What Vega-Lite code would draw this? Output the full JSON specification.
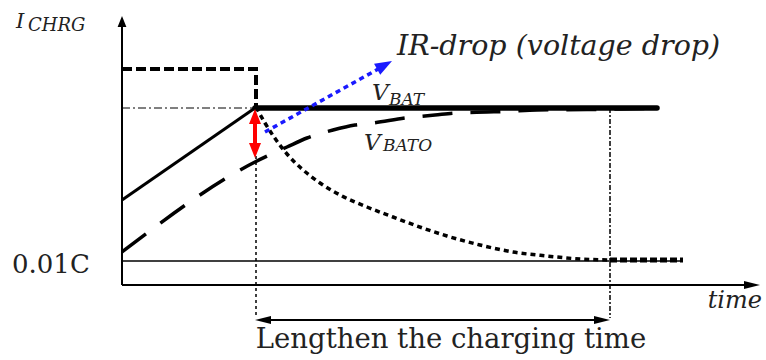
{
  "$schema": "https://vega.github.io/schema/vega-lite/v6.json",
  "width": 766,
  "height": 360,
  "padding": 0,
  "autosize": {"type": "fit", "contains": "padding"},
  "background": "white",
  "config": {"view": {"stroke": null}},
  "datasets": {
    "lines": [
      {"id": "yaxis", "o": 0, "t": 0, "v": 0},
      {"id": "yaxis", "o": 1, "t": 0, "v": 260},
      {"id": "xaxis", "o": 0, "t": 0, "v": 0},
      {"id": "xaxis", "o": 1, "t": 626, "v": 0},
      {"id": "lvl001", "o": 0, "t": 0, "v": 24},
      {"id": "lvl001", "o": 1, "t": 561, "v": 24},
      {"id": "vref", "o": 0, "t": 0, "v": 177},
      {"id": "vref", "o": 1, "t": 133, "v": 177},
      {"id": "vbat", "o": 0, "t": 133, "v": 177},
      {"id": "vbat", "o": 1, "t": 535, "v": 177},
      {"id": "rise", "o": 0, "t": 0, "v": 85},
      {"id": "rise", "o": 1, "t": 133, "v": 177},
      {"id": "cc", "o": 0, "t": 0, "v": 216},
      {"id": "cc", "o": 1, "t": 134, "v": 216},
      {"id": "cc", "o": 2, "t": 134, "v": 178},
      {"id": "decay", "o": 0, "t": 134, "v": 178},
      {"id": "decay", "o": 1, "t": 143, "v": 162},
      {"id": "decay", "o": 2, "t": 152, "v": 148},
      {"id": "decay", "o": 3, "t": 165, "v": 131},
      {"id": "decay", "o": 4, "t": 180, "v": 116},
      {"id": "decay", "o": 5, "t": 198, "v": 102},
      {"id": "decay", "o": 6, "t": 220, "v": 89},
      {"id": "decay", "o": 7, "t": 245, "v": 78},
      {"id": "decay", "o": 8, "t": 271, "v": 68},
      {"id": "decay", "o": 9, "t": 295, "v": 59},
      {"id": "decay", "o": 10, "t": 325, "v": 49},
      {"id": "decay", "o": 11, "t": 358, "v": 40},
      {"id": "decay", "o": 12, "t": 391, "v": 33},
      {"id": "decay", "o": 13, "t": 425, "v": 29},
      {"id": "decay", "o": 14, "t": 458, "v": 26},
      {"id": "decay", "o": 15, "t": 488, "v": 25},
      {"id": "tail", "o": 0, "t": 488, "v": 25},
      {"id": "tail", "o": 1, "t": 561, "v": 25},
      {"id": "vbato", "o": 0, "t": 0, "v": 33},
      {"id": "vbato", "o": 1, "t": 133, "v": 123},
      {"id": "vbato", "o": 2, "t": 165, "v": 138},
      {"id": "vbato", "o": 3, "t": 185, "v": 147},
      {"id": "vbato", "o": 4, "t": 211, "v": 155},
      {"id": "vbato", "o": 5, "t": 233, "v": 160},
      {"id": "vbato", "o": 6, "t": 251, "v": 162},
      {"id": "vbato", "o": 7, "t": 283, "v": 167},
      {"id": "vbato", "o": 8, "t": 313, "v": 170},
      {"id": "vbato", "o": 9, "t": 333, "v": 172},
      {"id": "vbato", "o": 10, "t": 365, "v": 173},
      {"id": "vbato", "o": 11, "t": 383, "v": 173.5},
      {"id": "vbato", "o": 12, "t": 415, "v": 175},
      {"id": "vbato", "o": 13, "t": 465, "v": 175.5},
      {"id": "vbato", "o": 14, "t": 498, "v": 176},
      {"id": "vbato", "o": 15, "t": 535, "v": 177},
      {"id": "ir", "o": 0, "t": 143, "v": 153},
      {"id": "ir", "o": 1, "t": 258, "v": 217},
      {"id": "red", "o": 0, "t": 133, "v": 140},
      {"id": "red", "o": 1, "t": 133, "v": 163},
      {"id": "vd1", "o": 0, "t": 134, "v": 177},
      {"id": "vd1", "o": 1, "t": 134, "v": -33},
      {"id": "vd2", "o": 0, "t": 488, "v": 177},
      {"id": "vd2", "o": 1, "t": 488, "v": -33},
      {"id": "span", "o": 0, "t": 140, "v": -35},
      {"id": "span", "o": 1, "t": 481, "v": -35}
    ],
    "heads": [
      {"id": "ytip", "t": 0, "v": 269},
      {"id": "xtip", "t": 638, "v": 0},
      {"id": "redup", "t": 133, "v": 176},
      {"id": "reddown", "t": 133, "v": 127},
      {"id": "irtip", "t": 270, "v": 224},
      {"id": "spanleft", "t": 133, "v": -35},
      {"id": "spanright", "t": 488, "v": -35}
    ],
    "labels": [
      {"id": "I", "label": "I", "t": -106, "v": 257},
      {"id": "CHRG", "label": "CHRG", "t": -94, "v": 254},
      {"id": "ir", "label": "IR-drop (voltage drop)", "t": 275, "v": 230},
      {"id": "V1", "label": "V", "t": 250, "v": 185},
      {"id": "BAT", "label": "BAT", "t": 267, "v": 180},
      {"id": "V2", "label": "V", "t": 242, "v": 135},
      {"id": "BATO", "label": "BATO", "t": 261, "v": 134},
      {"id": "c001", "label": "0.01C", "t": -110, "v": 12},
      {"id": "time", "label": "time", "t": 640, "v": -23},
      {"id": "len", "label": "Lengthen the charging time", "t": 329, "v": -63}
    ]
  },
  "encoding": {
    "x": {"field": "t", "type": "quantitative", "scale": {"domain": [-122, 644], "nice": false, "zero": false}, "axis": null},
    "y": {"field": "v", "type": "quantitative", "scale": {"domain": [-75, 285], "nice": false, "zero": false}, "axis": null}
  },
  "layer": [
    {"data": {"name": "lines"}, "transform": [{"filter": "datum.id === 'lvl001'"}], "mark": {"type": "line", "color": "black", "strokeWidth": 1.5}, "encoding": {"order": {"field": "o"}}},
    {"data": {"name": "lines"}, "transform": [{"filter": "datum.id === 'vref'"}], "mark": {"type": "line", "color": "black", "strokeWidth": 1, "strokeDash": [8, 3, 2, 3]}, "encoding": {"order": {"field": "o"}}},
    {"data": {"name": "lines"}, "transform": [{"filter": "datum.id === 'vd1'"}], "mark": {"type": "line", "color": "black", "strokeWidth": 1.5, "strokeDash": [3, 3]}, "encoding": {"order": {"field": "o"}}},
    {"data": {"name": "lines"}, "transform": [{"filter": "datum.id === 'vd2'"}], "mark": {"type": "line", "color": "black", "strokeWidth": 1.5, "strokeDash": [5, 2, 2, 2]}, "encoding": {"order": {"field": "o"}}},
    {"data": {"name": "lines"}, "transform": [{"filter": "datum.id === 'yaxis' || datum.id === 'xaxis'"}], "mark": {"type": "line", "color": "black", "strokeWidth": 2}, "encoding": {"order": {"field": "o"}, "detail": {"field": "id"}}},
    {"data": {"name": "lines"}, "transform": [{"filter": "datum.id === 'span'"}], "mark": {"type": "line", "color": "black", "strokeWidth": 2}, "encoding": {"order": {"field": "o"}}},
    {"data": {"name": "lines"}, "transform": [{"filter": "datum.id === 'rise'"}], "mark": {"type": "line", "color": "black", "strokeWidth": 3}, "encoding": {"order": {"field": "o"}}},
    {"data": {"name": "lines"}, "transform": [{"filter": "datum.id === 'cc'"}], "mark": {"type": "line", "color": "black", "strokeWidth": 4, "strokeDash": [10, 4]}, "encoding": {"order": {"field": "o"}}},
    {"data": {"name": "lines"}, "transform": [{"filter": "datum.id === 'decay'"}], "mark": {"type": "line", "color": "black", "strokeWidth": 3.5, "strokeDash": [5, 4], "interpolate": "monotone"}, "encoding": {"order": {"field": "o"}}},
    {"data": {"name": "lines"}, "transform": [{"filter": "datum.id === 'tail'"}], "mark": {"type": "line", "color": "black", "strokeWidth": 5, "strokeDash": [7, 3]}, "encoding": {"order": {"field": "o"}}},
    {"data": {"name": "lines"}, "transform": [{"filter": "datum.id === 'vbato'"}], "mark": {"type": "line", "color": "black", "strokeWidth": 3.5, "strokeDash": [30, 18], "interpolate": "monotone"}, "encoding": {"order": {"field": "o"}}},
    {"data": {"name": "lines"}, "transform": [{"filter": "datum.id === 'vbat'"}], "mark": {"type": "line", "color": "black", "strokeWidth": 5.5, "strokeCap": "round"}, "encoding": {"order": {"field": "o"}}},
    {"data": {"name": "lines"}, "transform": [{"filter": "datum.id === 'ir'"}], "mark": {"type": "line", "color": "#1a1aff", "strokeWidth": 3.5, "strokeDash": [5, 4]}, "encoding": {"order": {"field": "o"}}},
    {"data": {"name": "lines"}, "transform": [{"filter": "datum.id === 'red'"}], "mark": {"type": "line", "color": "#ff0000", "strokeWidth": 4}, "encoding": {"order": {"field": "o"}}},
    {"data": {"name": "heads"}, "transform": [{"filter": "datum.id === 'ytip'"}], "mark": {"type": "point", "shape": "M0,0L-0.8,2L0.8,2Z", "filled": true, "opacity": 1, "color": "black", "size": 121, "strokeWidth": 0}},
    {"data": {"name": "heads"}, "transform": [{"filter": "datum.id === 'xtip'"}], "mark": {"type": "point", "shape": "M0,0L-0.5,2L0.5,2Z", "filled": true, "opacity": 1, "color": "black", "size": 256, "angle": 90, "strokeWidth": 0}},
    {"data": {"name": "heads"}, "transform": [{"filter": "datum.id === 'spanleft'"}], "mark": {"type": "point", "shape": "M0,0L-0.5,2L0.5,2Z", "filled": true, "opacity": 1, "color": "black", "size": 256, "angle": 270, "strokeWidth": 0}},
    {"data": {"name": "heads"}, "transform": [{"filter": "datum.id === 'spanright'"}], "mark": {"type": "point", "shape": "M0,0L-0.5,2L0.5,2Z", "filled": true, "opacity": 1, "color": "black", "size": 256, "angle": 90, "strokeWidth": 0}},
    {"data": {"name": "heads"}, "transform": [{"filter": "datum.id === 'redup'"}], "mark": {"type": "point", "shape": "M0,0L-0.8,2L0.8,2Z", "filled": true, "opacity": 1, "color": "#ff0000", "size": 225, "strokeWidth": 0}},
    {"data": {"name": "heads"}, "transform": [{"filter": "datum.id === 'reddown'"}], "mark": {"type": "point", "shape": "M0,0L-0.8,2L0.8,2Z", "filled": true, "opacity": 1, "color": "#ff0000", "size": 225, "angle": 180, "strokeWidth": 0}},
    {"data": {"name": "heads"}, "transform": [{"filter": "datum.id === 'irtip'"}], "mark": {"type": "point", "shape": "M0,0L-0.75,2L0.75,2Z", "filled": true, "opacity": 1, "color": "#1a1aff", "size": 289, "angle": 61, "strokeWidth": 0}},
    {"data": {"name": "labels"}, "transform": [{"filter": "datum.id === 'I'"}], "mark": {"type": "text", "font": "DejaVu Serif", "fontStyle": "italic", "fontSize": 21, "align": "left", "baseline": "alphabetic", "color": "#222"}, "encoding": {"text": {"field": "label"}}},
    {"data": {"name": "labels"}, "transform": [{"filter": "datum.id === 'CHRG'"}], "mark": {"type": "text", "font": "DejaVu Serif", "fontStyle": "italic", "fontSize": 18, "align": "left", "baseline": "alphabetic", "color": "#222"}, "encoding": {"text": {"field": "label"}}},
    {"data": {"name": "labels"}, "transform": [{"filter": "datum.id === 'ir'"}], "mark": {"type": "text", "font": "DejaVu Serif", "fontStyle": "italic", "fontSize": 28.5, "align": "left", "baseline": "alphabetic", "color": "#222"}, "encoding": {"text": {"field": "label"}}},
    {"data": {"name": "labels"}, "transform": [{"filter": "datum.id === 'V1' || datum.id === 'V2'"}], "mark": {"type": "text", "font": "DejaVu Serif", "fontStyle": "italic", "fontSize": 23, "align": "left", "baseline": "alphabetic", "color": "#222"}, "encoding": {"text": {"field": "label"}}},
    {"data": {"name": "labels"}, "transform": [{"filter": "datum.id === 'BAT' || datum.id === 'BATO'"}], "mark": {"type": "text", "font": "DejaVu Serif", "fontStyle": "italic", "fontSize": 17, "align": "left", "baseline": "alphabetic", "color": "#222"}, "encoding": {"text": {"field": "label"}}},
    {"data": {"name": "labels"}, "transform": [{"filter": "datum.id === 'c001'"}], "mark": {"type": "text", "font": "DejaVu Serif", "fontSize": 26, "align": "left", "baseline": "alphabetic", "color": "#222"}, "encoding": {"text": {"field": "label"}}},
    {"data": {"name": "labels"}, "transform": [{"filter": "datum.id === 'time'"}], "mark": {"type": "text", "font": "DejaVu Serif", "fontStyle": "italic", "fontSize": 24, "align": "right", "baseline": "alphabetic", "color": "#222"}, "encoding": {"text": {"field": "label"}}},
    {"data": {"name": "labels"}, "transform": [{"filter": "datum.id === 'len'"}], "mark": {"type": "text", "font": "DejaVu Serif", "fontSize": 27.5, "align": "center", "baseline": "alphabetic", "color": "#222"}, "encoding": {"text": {"field": "label"}}}
  ]
}
